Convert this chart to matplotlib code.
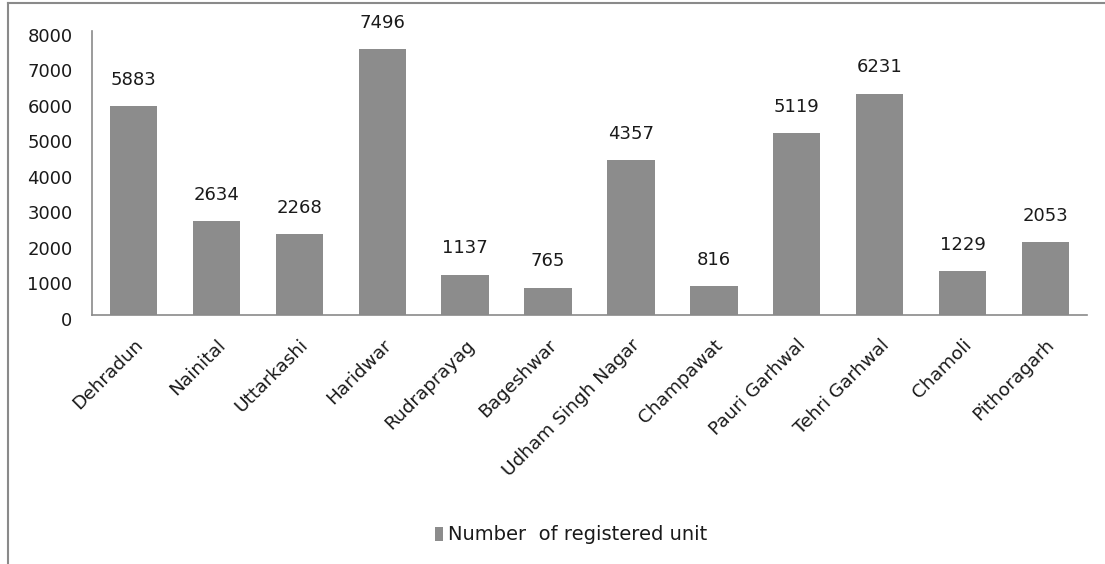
import matplotlib
matplotlib.use("Agg")
import matplotlib.pyplot as plt
import matplotlib.transforms as mtransforms
from matplotlib.lines import Line2D
from matplotlib.patches import Patch

districts = ["Dehradun", "Nainital", "Uttarkashi", "Haridwar", "Rudraprayag",
             "Bageshwar", "Udham Singh Nagar", "Champawat", "Pauri Garhwal",
             "Tehri Garhwal", "Chamoli", "Pithoragarh"]
units = [5883, 2634, 2268, 7496, 1137, 765, 4357, 816, 5119, 6231, 1229, 2053]
y_ticks = [0, 1000, 2000, 3000, 4000, 5000, 6000, 7000, 8000]
series_name = "Number  of registered unit"

BAR = "#8c8c8c"
AXIS = "#8a8a8a"
TEXT = "#1a1a1a"

W, H = 1105, 564
fig = plt.figure(figsize=(W / 100, H / 100), dpi=100)
fig.patch.set_facecolor("white")

# axes placed in pixel terms
left, right, bottom, top = 92, 1087, 315, 31
ax = fig.add_axes([left / W, 1 - bottom / H, (right - left) / W, (bottom - top) / H])

x = list(range(len(districts)))
ax.bar(x, units, width=0.57, color=BAR, edgecolor="none", zorder=2)

for xi, v in zip(x, units):
    ax.annotate(f"{v}", (xi, v), xytext=(0, 12.5), textcoords="offset points",
                ha="center", va="bottom", fontsize=13, color=TEXT)

ax.set_xlim(-0.5, len(districts) - 0.5)
ax.set_ylim(0, 8000)
ax.set_yticks(y_ticks)
ax.set_yticklabels([str(t) for t in y_ticks], fontsize=13, color=TEXT)
ax.tick_params(axis="y", length=0, pad=14)
ax.set_xticks(x)
ax.set_xticklabels(districts, rotation=45, ha="right", rotation_mode="anchor",
                   fontsize=13.3, color=TEXT)
ax.tick_params(axis="x", length=0, pad=15)

# nudge tick labels slightly
dy = mtransforms.ScaledTranslation(0, -4 / 100, fig.dpi_scale_trans)
for lab in ax.get_yticklabels():
    lab.set_transform(lab.get_transform() + dy)

for side in ["top", "right"]:
    ax.spines[side].set_visible(False)
for side in ["left", "bottom"]:
    ax.spines[side].set_color(AXIS)
    ax.spines[side].set_linewidth(1.2)

# legend
handle = Patch(facecolor=BAR, edgecolor="none")
leg = fig.legend([handle], [series_name], loc="center",
                 bbox_to_anchor=(571 / W, 1 - 535 / H), frameon=False,
                 fontsize=14, handlelength=0.45, handleheight=0.75,
                 handletextpad=0.25)
for t in leg.get_texts():
    t.set_color(TEXT)

# outer frame (top and left edges)
fig.add_artist(Line2D([8 / W, 1.0], [1 - 3 / H, 1 - 3 / H], color="#8a8a8a",
                      lw=1.5, transform=fig.transFigure))
fig.add_artist(Line2D([8 / W, 8 / W], [0, 1 - 3 / H], color="#8a8a8a",
                      lw=1.5, transform=fig.transFigure))

fig.savefig("out.png", dpi=100)
